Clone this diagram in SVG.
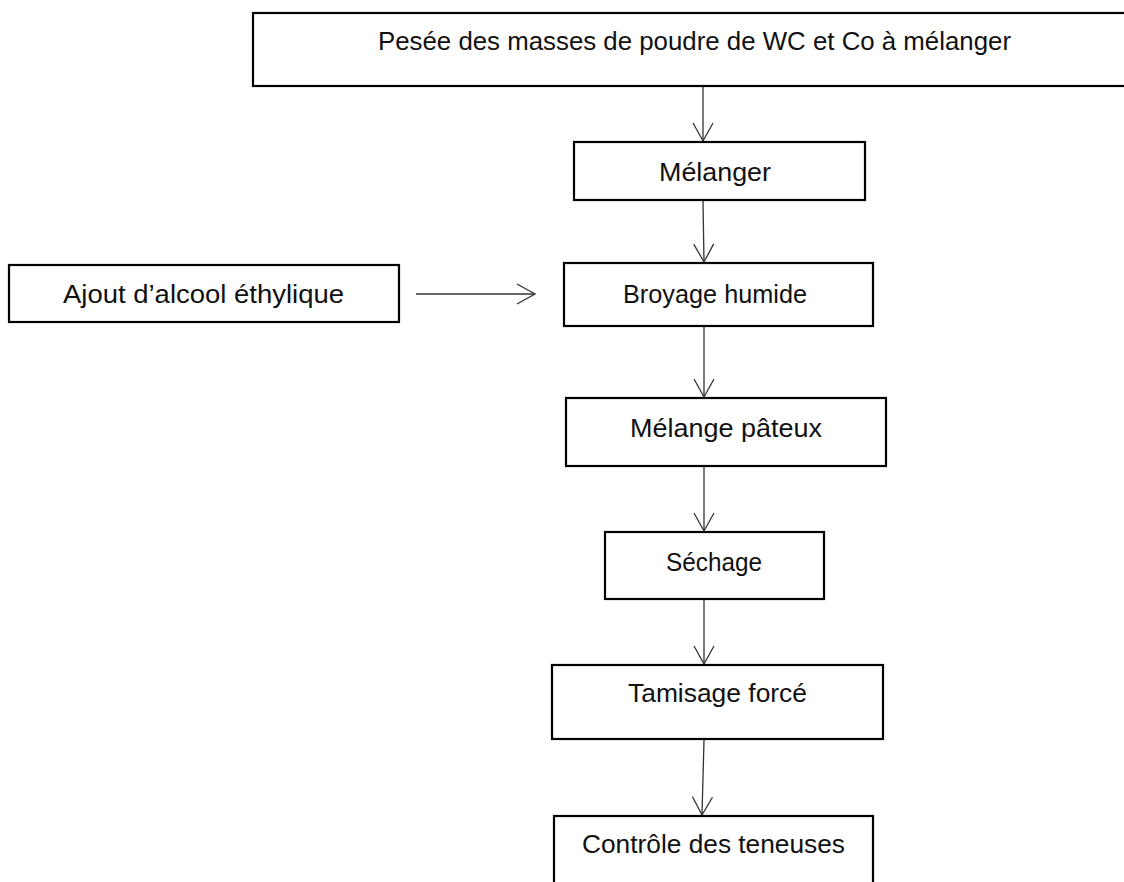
<svg xmlns="http://www.w3.org/2000/svg" width="1124" height="882" viewBox="0 0 1124 882">
  <style>
    .box { fill: #ffffff; stroke: #000000; stroke-width: 2.2; }
    .lbl { font-family: "Liberation Sans", Arial, sans-serif; font-size: 26px; fill: #111111; text-anchor: middle; }
    .conn { stroke: #333333; stroke-width: 1.3; fill: none; marker-end: url(#arr); }
  </style>
  <defs>
    <marker id="arr" markerUnits="userSpaceOnUse" viewBox="0 0 19 22" refX="18" refY="11" markerWidth="19" markerHeight="22" orient="auto" overflow="visible">
      <path d="M0,1 L18,11 L0,21" fill="none" stroke="#333333" stroke-width="1.3"/>
    </marker>
  </defs>
  <rect width="1124" height="882" fill="#ffffff"/>

  <g id="connectors">
    <line class="conn" x1="703" y1="87" x2="703" y2="141"/>
    <line class="conn" x1="703" y1="201" x2="704" y2="262"/>
    <line class="conn" x1="416" y1="294" x2="535" y2="294"/>
    <line class="conn" x1="704" y1="327" x2="704" y2="397"/>
    <line class="conn" x1="704" y1="467" x2="704" y2="531"/>
    <line class="conn" x1="704" y1="600" x2="704" y2="664"/>
    <line class="conn" x1="704" y1="740" x2="702" y2="815"/>
  </g>

  <g id="pesee">
    <rect class="box" x="253" y="13" width="883" height="73"/>
    <text class="lbl" x="694.5" y="50" textLength="633" lengthAdjust="spacingAndGlyphs">Pesée des masses de poudre de WC et Co à mélanger</text>
  </g>
  <g id="melanger">
    <rect class="box" x="574" y="142" width="291" height="58"/>
    <text class="lbl" x="715" y="181" textLength="112" lengthAdjust="spacingAndGlyphs">Mélanger</text>
  </g>
  <g id="ajout">
    <rect class="box" x="9" y="265" width="390" height="57"/>
    <text class="lbl" x="203.5" y="303" textLength="281" lengthAdjust="spacingAndGlyphs">Ajout d’alcool éthylique</text>
  </g>
  <g id="broyage">
    <rect class="box" x="564" y="263" width="309" height="63"/>
    <text class="lbl" x="715" y="303" textLength="184" lengthAdjust="spacingAndGlyphs">Broyage humide</text>
  </g>
  <g id="pateux">
    <rect class="box" x="566" y="398" width="320" height="68"/>
    <text class="lbl" x="726" y="437" textLength="192" lengthAdjust="spacingAndGlyphs">Mélange pâteux</text>
  </g>
  <g id="sechage">
    <rect class="box" x="605" y="532" width="219" height="67"/>
    <text class="lbl" x="714" y="571" textLength="96" lengthAdjust="spacingAndGlyphs">Séchage</text>
  </g>
  <g id="tamisage">
    <rect class="box" x="552" y="665" width="331" height="74"/>
    <text class="lbl" x="717.5" y="702" textLength="179" lengthAdjust="spacingAndGlyphs">Tamisage forcé</text>
  </g>
  <g id="controle">
    <rect class="box" x="554" y="816" width="319" height="80"/>
    <text class="lbl" x="713.5" y="853" textLength="263" lengthAdjust="spacingAndGlyphs">Contrôle des teneuses</text>
  </g>
</svg>
